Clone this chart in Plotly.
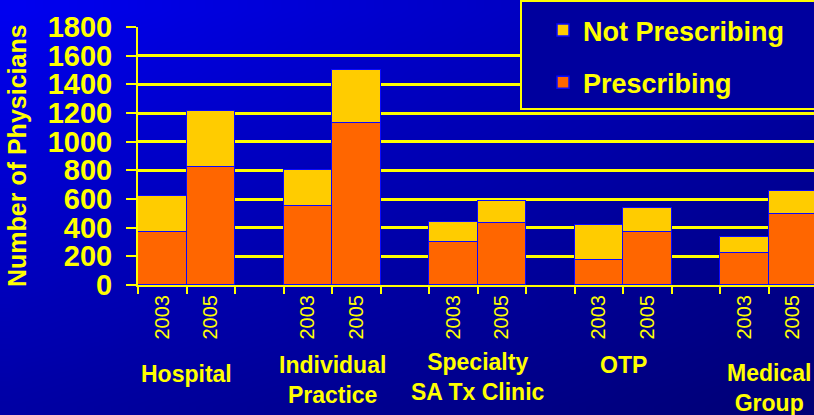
import base64
import struct
import zlib

import plotly.graph_objects as go

# --- data -------------------------------------------------------------
groups = ["Hospital", "Individual<br>Practice", "Specialty<br>SA Tx Clinic", "OTP", "Medical<br>Group"]
years = ["2003", "2005"]
prescribing = [370, 820, 550, 1130, 300, 433, 174, 372, 225, 495]
not_prescribing = [250, 395, 250, 370, 140, 153, 245, 163, 108, 163]
y_ticks = [0, 200, 400, 600, 800, 1000, 1200, 1400, 1600, 1800]

# --- layout constants -------------------------------------------------
W, H = 814, 415
ML, MR, MT, MB = 138, 0, 27, 130
PW, PH = W - ML - MR, H - MT - MB

YELLOW = "#FFFF00"
FONT = "Liberation Sans, Arial, sans-serif"


def gradient_png(w, h, tl, tr, bl, br):
    """Petit PNG avec un dégradé bilinéaire (fond bleu)."""
    rows = b""
    for j in range(h):
        v = j / (h - 1)
        rows += b"\x00"
        for i in range(w):
            u = i / (w - 1)
            px = []
            for c in range(3):
                top = tl[c] * (1 - u) + tr[c] * u
                bot = bl[c] * (1 - u) + br[c] * u
                px.append(int(round(top * (1 - v) + bot * v)))
            rows += bytes(px)

    def chunk(tag, data):
        out = struct.pack(">I", len(data)) + tag + data
        return out + struct.pack(">I", zlib.crc32(tag + data) & 0xFFFFFFFF)

    png = b"\x89PNG\r\n\x1a\n"
    png += chunk(b"IHDR", struct.pack(">IIBBBBB", w, h, 8, 2, 0, 0, 0))
    png += chunk(b"IDAT", zlib.compress(rows))
    png += chunk(b"IEND", b"")
    return "data:image/png;base64," + base64.b64encode(png).decode()


# categories: 2 years per group + an empty slot between groups
cats, tick_text, pres_y, notp_y = [], [], [], []
k = 0
for gi, g in enumerate(groups):
    for yr in years:
        cats.append(f"{gi}-{yr}")
        tick_text.append(yr)
        pres_y.append(prescribing[k])
        notp_y.append(not_prescribing[k])
        k += 1
    if gi < len(groups) - 1:
        cats.append(f"{gi}-gap")
        tick_text.append("")
        pres_y.append(None)
        notp_y.append(None)

fig = go.Figure()

fig.add_trace(go.Bar(
    x=cats, y=pres_y, name="Prescribing",
    marker=dict(color="#FF6600", line=dict(color="#0A0AFF", width=1.5)),
    legendgroup="p", legendrank=2,
))
fig.add_trace(go.Bar(
    x=cats, y=notp_y, name="Not Prescribing",
    marker=dict(color="#FFCC00", line=dict(color="#0A0AFF", width=1.5)),
    legendgroup="n", legendrank=1,
))

# --- fond dégradé -----------------------------------------------------
fig.add_layout_image(
    source=gradient_png(48, 24, (0, 0, 240), (0, 0, 170), (0, 0, 165), (0, 0, 118)),
    xref="paper", yref="paper",
    x=-ML / PW, y=1 + MT / PH,
    sizex=W / PW, sizey=H / PH,
    xanchor="left", yanchor="top",
    sizing="stretch", layer="below",
)

# --- cadre de la légende ---------------------------------------------
fig.add_shape(
    type="rect", xref="paper", yref="paper",
    x0=(521 - ML) / PW, x1=1.05,
    y0=(PH + MT - 109) / PH, y1=(PH + MT - 1) / PH,
    line=dict(color=YELLOW, width=2),
    fillcolor="#00009E", layer="above",
)

# --- étiquettes des groupes -------------------------------------------
label_y = [374, 380, 377, 365, 388]
for gi, g in enumerate(groups):
    fig.add_annotation(
        x=gi * 3 + 0.5, xref="x",
        y=(PH + MT - label_y[gi]) / PH, yref="paper",
        text=g, showarrow=False,
        xanchor="center", yanchor="middle",
        font=dict(family=FONT, size=23, color=YELLOW, weight="bold"),
    )

# titre de l'axe Y
fig.add_annotation(
    x=(17 - ML) / PW, xref="paper", y=0.5, yref="paper",
    text="Number of Physicians", textangle=-90, showarrow=False,
    xanchor="center", yanchor="middle",
    font=dict(family=FONT, size=25, color=YELLOW, weight="bold"),
)

fig.update_layout(
    width=W, height=H,
    margin=dict(l=ML, r=MR, t=MT, b=MB),
    barmode="stack", bargap=0,
    paper_bgcolor="rgba(0,0,0,0)",
    plot_bgcolor="rgba(0,0,0,0)",
    showlegend=True,
    legend=dict(
        x=(543 - ML) / PW, y=1 + 21 / PH,
        xanchor="left", yanchor="top",
        traceorder="grouped", tracegroupgap=14,
        bgcolor="rgba(0,0,0,0)",
        font=dict(family=FONT, size=27, color=YELLOW, weight="bold"),
    ),
)

fig.update_xaxes(
    type="category",
    range=[-0.5, len(cats) - 0.5 - (len(cats) * 48.5 - PW) / 48.5],
    tickmode="array", tickvals=cats, ticktext=tick_text,
    tickson="boundaries", tickangle=-90,
    ticks="outside", ticklen=7, tickwidth=2, tickcolor=YELLOW,
    showline=True, linecolor=YELLOW, linewidth=2,
    showgrid=False,
    tickfont=dict(family=FONT, size=20, color=YELLOW),
)
fig.update_yaxes(
    range=[0, 1800],
    tickmode="array", tickvals=y_ticks,
    ticks="outside", ticklen=10, tickwidth=2, tickcolor=YELLOW,
    showline=True, linecolor=YELLOW, linewidth=2,
    showgrid=True, gridcolor=YELLOW, gridwidth=2.5,
    zeroline=False,
    ticklabelstandoff=8,
    tickfont=dict(family=FONT, size=29, color=YELLOW, weight="bold"),
)

fig.write_html(
    "out.html",
    config={"displayModeBar": False},
    post_script="document.body.style.margin='0';document.body.style.overflow='hidden';",
)
